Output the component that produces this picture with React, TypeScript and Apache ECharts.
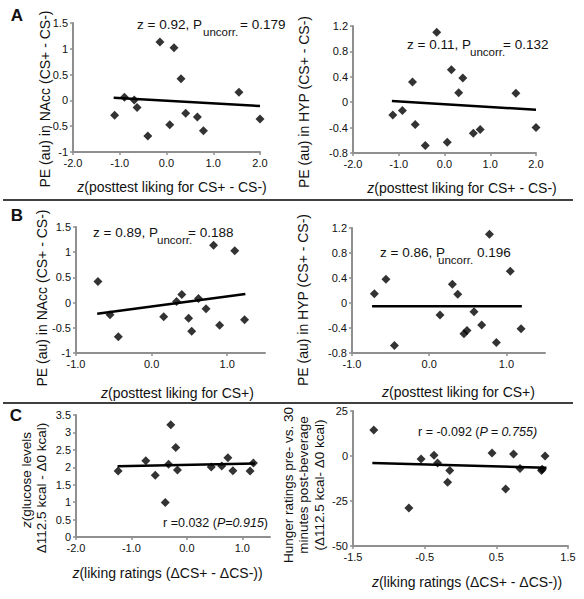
import React, { useEffect, useRef } from "react";
import * as echarts from "echarts";

// ---------- Data ----------
// Panel A (left): NAcc vs posttest liking CS+ - CS-
const aLeftX = [-1.11, -0.9, -0.69, -0.63, -0.4, -0.14, 0.07, 0.16, 0.31, 0.41, 0.66, 0.79, 1.55, 2.0];
const aLeftY = [-0.29, 0.06, 0.01, -0.14, -0.69, 1.13, -0.47, 1.02, 0.42, -0.25, -0.32, -0.59, 0.16, -0.36];
const aLeftFit = [[-1.13, 0.05], [2.0, -0.11]];

// Panel A (right): HYP vs posttest liking CS+ - CS-
const aRightX = [-1.13, -0.92, -0.7, -0.64, -0.42, -0.17, 0.06, 0.15, 0.31, 0.4, 0.63, 0.78, 1.56, 2.0];
const aRightY = [-0.2, -0.13, 0.32, -0.35, -0.68, 1.1, -0.63, 0.51, 0.15, 0.38, -0.49, -0.43, 0.14, -0.4];
const aRightFit = [[-1.15, 0.02], [2.0, -0.12]];

// Panel B (left): NAcc vs posttest liking CS+
const bLeftX = [-0.71, -0.55, -0.44, 0.16, 0.33, 0.4, 0.49, 0.53, 0.62, 0.72, 0.82, 0.9, 1.1, 1.23];
const bLeftY = [0.42, -0.24, -0.68, -0.28, 0.02, 0.16, -0.31, -0.57, 0.08, -0.12, 1.14, -0.45, 1.03, -0.34];
const bLeftFit = [[-0.72, -0.22], [1.24, 0.17]];

// Panel B (right): HYP vs posttest liking CS+
const bRightX = [-0.71, -0.56, -0.45, 0.14, 0.3, 0.37, 0.45, 0.49, 0.58, 0.68, 0.78, 0.87, 1.05, 1.19];
const bRightY = [0.15, 0.38, -0.68, -0.19, 0.3, 0.14, -0.49, -0.44, -0.14, -0.35, 1.1, -0.63, 0.51, -0.41];
const bRightFit = [[-0.74, -0.05], [1.2, -0.05]];

// Panel C (left): glucose vs liking ratings
const cLeftX = [-1.24, -0.74, -0.57, -0.39, -0.33, -0.29, -0.2, -0.17, 0.44, 0.63, 0.74, 0.83, 1.14, 1.2];
const cLeftY = [1.89, 2.19, 1.77, 0.99, 2.09, 3.22, 2.57, 1.92, 2.01, 2.04, 2.27, 1.9, 1.89, 2.12];
const cLeftFit = [[-1.25, 2.03], [1.23, 2.11]];

// Panel C (right): hunger ratings vs liking ratings
const cRightX = [-1.21, -0.72, -0.55, -0.37, -0.32, -0.18, -0.15, 0.44, 0.63, 0.74, 0.83, 1.13, 1.14, 1.18];
const cRightY = [14.4, -28.9, -1.7, 0.4, -3.9, -14.6, -8.1, 1.7, -18.3, 1.1, -6.9, -8.1, -7.4, 0];
const cRightFit = [[-1.23, -3.9], [1.2, -6.5]];

// Tick values
const xTicksA = [-2, -1, 0, 1, 2];
const xTicksB = [-1, 0, 1];
const xTicksCLeft = [-2, -1, 0, 1];
const xTicksCRight = [-1.5, -0.5, 0.5, 1.5];

// Texts
const yTitleNAcc = "PE (au) in NAcc (CS+ - CS-)";
const yTitleHYP = "PE (au) in HYP (CS+ - CS-)";
const xTitleA = "{i|z}(posttest liking for CS+ - CS-)";
const xTitleB = "{i|z}(posttest liking for CS+)";
const xTitleC = "{i|z}(liking ratings (\u0394CS+ - \u0394CS-))";
const yTitleCLeft = ["{i|z}(glucose levels", "\u0394112.5 kcal - \u03940 kcal)"];
const yTitleCRight = ["Hunger ratings pre- vs. 30", "minutes post-beverage", "(\u0394112.5 kcal- \u03940 kcal)"];

const FONT = "'Liberation Sans', Arial, Helvetica, sans-serif";
const AXIS_GRAY = "#8f8f8f";
const TEXT = "#111";

const zip = (xs: number[], ys: number[]) => xs.map((x, i) => [x, ys[i]]);

const panels = [
  { grid: { left: 73, top: 23, width: 187, height: 129 }, x: { min: -2, max: 2, ticks: xTicksA }, y: { min: -1, max: 1.5, interval: 0.5 }, xs: aLeftX, ys: aLeftY, fit: aLeftFit },
  { grid: { left: 353, top: 26, width: 183, height: 127 }, x: { min: -2, max: 2, ticks: xTicksA }, y: { min: -0.8, max: 1.2, interval: 0.4 }, xs: aRightX, ys: aRightY, fit: aRightFit },
  { grid: { left: 76, top: 227, width: 189, height: 126 }, x: { min: -1, max: 1.5, ticks: xTicksB }, y: { min: -1, max: 1.5, interval: 0.5 }, xs: bLeftX, ys: bLeftY, fit: bLeftFit },
  { grid: { left: 352, top: 228, width: 193, height: 125 }, x: { min: -1, max: 1.5, ticks: xTicksB }, y: { min: -0.8, max: 1.2, interval: 0.4 }, xs: bRightX, ys: bRightY, fit: bRightFit },
  { grid: { left: 76, top: 415, width: 194, height: 122 }, x: { min: -2, max: 1.5, ticks: xTicksCLeft }, y: { min: 0, max: 3.5, interval: 0.5 }, xs: cLeftX, ys: cLeftY, fit: cLeftFit },
  { grid: { left: 353, top: 411, width: 215, height: 135 }, x: { min: -1.5, max: 1.5, ticks: xTicksCRight }, y: { min: -50, max: 25, interval: 25 }, xs: cRightX, ys: cRightY, fit: cRightFit },
];

const txt = (x: number, y: number, text: string, opts: any = {}) => ({
  type: "text",
  x,
  y,
  rotation: opts.rotation || 0,
  style: {
    text,
    fill: opts.fill || TEXT,
    fontFamily: FONT,
    fontSize: opts.fontSize || 14,
    fontWeight: opts.fontWeight || "normal",
    fontStyle: opts.fontStyle || "normal",
    textAlign: opts.align || "center",
    textVerticalAlign: "middle",
    rich: {
      i: { fontStyle: "italic", fontFamily: FONT, fontSize: opts.fontSize || 14, fill: opts.fill || TEXT },
    },
  },
});

const stat = (x1: number, y: number, main1: string, xSub: number, xMain2: number, main2: string) => [
  txt(x1, y, main1, { align: "left", fontSize: 13.5 }),
  txt(xSub, y + 7.5, "uncorr.", { align: "left", fontSize: 11.5 }),
  txt(xMain2, y, main2, { align: "left", fontSize: 13.5 }),
];

export default function App() {
  const ref = useRef<HTMLDivElement>(null);
  useEffect(() => {
    if (!ref.current) return;
    const chart = echarts.init(ref.current, undefined, { renderer: "svg" });

    const grids = panels.map((p) => ({ ...p.grid, containLabel: false }));
    const xAxes = panels.map((p, i) => ({
      type: "value",
      gridIndex: i,
      min: p.x.min,
      max: p.x.max,
      interval: 1,
      splitLine: { show: false },
      axisLine: { onZero: false, lineStyle: { color: AXIS_GRAY, width: 2 } },
      axisTick: { show: true, length: 3, customValues: p.x.ticks, lineStyle: { color: AXIS_GRAY, width: 1.5 } },
      axisLabel: {
        customValues: p.x.ticks,
        formatter: (v: number) => v.toFixed(1),
        color: TEXT,
        fontFamily: FONT,
        fontSize: 11,
        margin: 5,
      },
    }));
    const yAxes = panels.map((p, i) => ({
      type: "value",
      gridIndex: i,
      min: p.y.min,
      max: p.y.max,
      interval: p.y.interval,
      splitLine: { show: false },
      axisLine: { show: true, onZero: false, lineStyle: { color: AXIS_GRAY, width: 2 } },
      axisTick: { show: true, length: 3, lineStyle: { color: AXIS_GRAY, width: 1.5 } },
      axisLabel: { color: TEXT, fontFamily: FONT, fontSize: 11, margin: 5 },
    }));
    const series: any[] = [];
    panels.forEach((p, i) => {
      series.push({
        type: "scatter",
        xAxisIndex: i,
        yAxisIndex: i,
        data: zip(p.xs, p.ys),
        symbol: "diamond",
        symbolSize: 9,
        itemStyle: { color: "#000" },
        clip: false,
        silent: true,
      });
      series.push({
        type: "line",
        xAxisIndex: i,
        yAxisIndex: i,
        data: p.fit,
        showSymbol: false,
        symbol: "none",
        lineStyle: { color: "#000", width: 2.5 },
        silent: true,
      });
    });

    const graphics: any[] = [
      // separators
      { type: "line", shape: { x1: 3, y1: 200, x2: 573, y2: 200 }, style: { stroke: "#000", lineWidth: 1.5 } },
      { type: "line", shape: { x1: 3, y1: 403, x2: 573, y2: 403 }, style: { stroke: "#000", lineWidth: 1.5 } },
      // panel letters
      txt(17, 15, "A", { fontSize: 17, fontWeight: "bold" }),
      txt(17, 215, "B", { fontSize: 17, fontWeight: "bold" }),
      txt(16, 415, "C", { fontSize: 17, fontWeight: "bold" }),
      // stats
      ...stat(137, 24.5, "z = 0.92, P", 203, 240, "= 0.179"),
      ...stat(407, 44.5, "z = 0.11, P", 470, 503, "= 0.132"),
      ...stat(93, 232, "z = 0.89, P", 157, 188, "= 0.188"),
      ...stat(380, 252, "z = 0.86, P", 438, 477, "0.196"),
      txt(268, 523, "r =0.032 ({i|P=0.915})", { align: "right", fontSize: 12.5 }),
      txt(418, 432, "r = -0.092 ({i|P = 0.755)}", { align: "left", fontSize: 12.5 }),
      // y titles
      txt(45, 99, yTitleNAcc, { rotation: Math.PI / 2 }),
      txt(304, 102, yTitleHYP, { rotation: Math.PI / 2 }),
      txt(42, 298, yTitleNAcc, { rotation: Math.PI / 2 }),
      txt(303, 300, yTitleHYP, { rotation: Math.PI / 2 }),
      txt(26, 480, yTitleCLeft[0], { rotation: Math.PI / 2, fontSize: 13.5 }),
      txt(41, 488, yTitleCLeft[1], { rotation: Math.PI / 2, fontSize: 13.5 }),
      txt(288, 485, yTitleCRight[0], { rotation: Math.PI / 2, fontSize: 13.5 }),
      txt(303.5, 485, yTitleCRight[1], { rotation: Math.PI / 2, fontSize: 13.5 }),
      txt(319, 485, yTitleCRight[2], { rotation: Math.PI / 2, fontSize: 13.5 }),
      // x titles
      txt(172, 187, xTitleA),
      txt(462, 188, xTitleA),
      txt(177.5, 393, xTitleB),
      txt(458.5, 392, xTitleB),
      txt(167.5, 573, xTitleC),
      txt(467, 582, xTitleC),
    ];

    chart.setOption({
      animation: false,
      backgroundColor: "#fff",
      grid: grids,
      xAxis: xAxes,
      yAxis: yAxes,
      series,
      graphic: graphics,
    });
    return () => chart.dispose();
  }, []);
  return (
    <div
      ref={ref}
      style={{ position: "fixed", left: 0, top: 0, width: 584, height: 599, background: "#fff" }}
    />
  );
}
